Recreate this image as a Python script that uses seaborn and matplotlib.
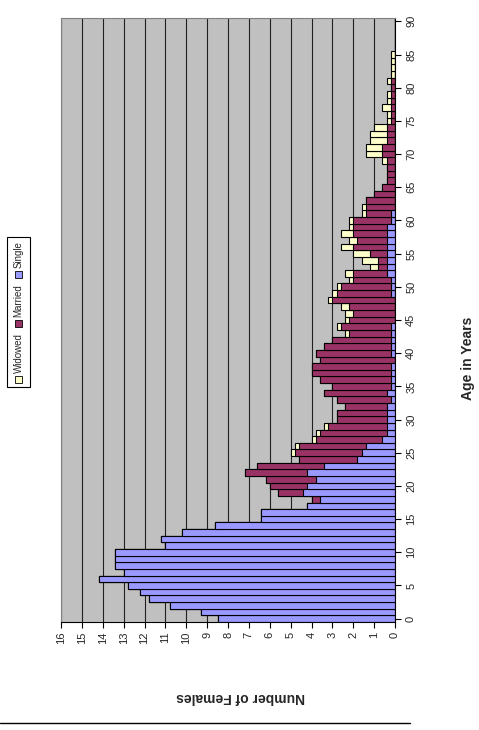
import numpy as np
import pandas as pd
import seaborn as sns
import matplotlib.pyplot as plt
from matplotlib.patches import Rectangle
from matplotlib.lines import Line2D

# ages 0..90, values (ages 86-90 are empty)
ages = list(range(0, 91))

single = [8.5, 9.3, 10.8, 11.8, 12.2, 12.8, 14.2, 13.0, 13.4, 13.4, 13.4, 11.0, 11.2, 10.2, 8.6, 6.4, 6.4,
          4.2, 3.6, 4.4, 4.2, 3.8, 4.2, 3.4, 1.8, 1.6, 1.4, 0.6, 0.4, 0.4,
          0.4, 0.4, 0.4, 0.2, 0.4, 0.2, 0.2, 0.2, 0.2, 0, 0.2, 0.2, 0.2, 0.2, 0.2, 0,
          0, 0, 0, 0.2, 0.2, 0.2, 0.4, 0.4, 0.4, 0.4, 0.4, 0.4, 0.4, 0.4, 0.2, 0.2] + [0] * 29

married = [0] * 18 + [0.4, 1.2, 1.8, 2.4, 3.0, 3.2, 2.8, 3.2, 3.2, 3.2, 3.2, 2.8,
                      2.4, 2.4, 2.0, 2.6, 3.0, 2.8, 3.4, 3.8, 3.8, 3.6, 3.6, 3.2, 2.8, 2.0, 2.4, 2.2,
                      2.0, 2.2, 3.0, 2.6, 2.4, 1.8, 1.6, 0.4, 0.4, 0.8, 1.6, 1.4, 1.6, 1.6, 1.8, 1.2,
                      1.4, 1.4, 1.0, 0.6, 0.4, 0.4, 0.4, 0.4, 0.6, 0.6, 0.4, 0.4, 0.4, 0.2, 0.2, 0.2,
                      0.2, 0.2, 0.2, 0.2, 0, 0, 0, 0] + [0] * 5

widowed = [0] * 25 + [0.2] * 5 + [0] * 13 + [0.2, 0.2, 0.2,
                                             0.4, 0.4, 0.2, 0.2, 0.2, 0.2, 0.4, 0.4, 0.8, 0.8, 0.6, 0.4, 0.6, 0.2, 0.2, 0.2,
                                             0.2, 0, 0, 0, 0, 0, 0, 0.2, 0.8, 0.8, 0.8, 0.8, 0.6, 0.2, 0.2, 0.4,
                                             0.2, 0.2, 0, 0.2, 0.2, 0.2, 0.2, 0.2] + [0] * 5

series = ['Widowed', 'Married', 'Single']
colors = {'Single': '#9999FF', 'Married': '#993366', 'Widowed': '#FFFFCC'}

df = pd.DataFrame({'age': ages, 'Single': single, 'Married': married, 'Widowed': widowed})
df['sm'] = df['Single'] + df['Married']
df['total'] = df['sm'] + df['Widowed']

sns.set_style('white')
plt.rcParams['font.family'] = ['Liberation Sans', 'DejaVu Sans']

W, H = 479, 730
fig = plt.figure(figsize=(W / 100, H / 100), dpi=100)
ax = fig.add_axes([61 / W, 1 - 622 / H, (395 - 61) / W, (622 - 18) / H])
ax.set_facecolor('#C0C0C0')

# stacked by drawing cumulative totals, biggest first
for col, name in [('total', 'Widowed'), ('sm', 'Married'), ('Single', 'Single')]:
    sns.barplot(data=df, x=col, y='age', orient='h', native_scale=True, width=1,
                color=colors[name], saturation=1, edgecolor='black', linewidth=0.8, ax=ax)

ax.set_xlim(16, 0)
ax.set_ylim(-0.5, 90.5)
ax.set_xticks(range(0, 17))
ax.set_xticklabels([str(i) for i in range(0, 17)], rotation=90, fontsize=8)
ax.set_yticks(range(0, 91, 5))
ax.set_yticklabels([str(i) for i in range(0, 91, 5)], rotation=90, fontsize=8, va='center')
ax.yaxis.tick_right()
ax.tick_params(axis='x', direction='out', length=4, width=0.8, color='black', bottom=True, pad=3)
ax.tick_params(axis='y', direction='out', length=4, width=0.8, color='black', right=True, left=False, pad=4)
ax.set_axisbelow(True)
ax.grid(axis='x', color='#202020', linewidth=0.8)
ax.grid(axis='y', visible=False)
ax.set_xlabel('')
ax.set_ylabel('')
for side in ['left', 'top']:
    ax.spines[side].set_color('#808080')
    ax.spines[side].set_linewidth(0.8)
for side in ['right', 'bottom']:
    ax.spines[side].set_color('black')
    ax.spines[side].set_linewidth(0.8)

fig.text(468 / W, 1 - 358 / H, 'Age in Years', rotation=90, fontsize=10, fontweight='bold',
         ha='center', va='center')
fig.text(241 / W, 1 - 697 / H, 'Number of Females', rotation=180, fontsize=10, fontweight='bold',
         ha='center', va='center')

# legend drawn by hand, rotated like the rest of the chart (reads bottom to top)
text_len = {'Single': 27, 'Married': 33, 'Widowed': 40}
box_top = 237
y = box_top + 4
for name in series[::-1]:
    fig.text(18.5 / W, 1 - y / H, name, rotation=90, fontsize=7, ha='center', va='top')
    y += text_len[name] + 3
    fig.add_artist(Rectangle((15 / W, 1 - (y + 7) / H), 7 / W, 7 / H, transform=fig.transFigure,
                             facecolor=colors[name], edgecolor='black', linewidth=0.6))
    y += 7 + 6
box_bot = y - 6 + 4
fig.add_artist(Rectangle((7 / W, 1 - box_bot / H), (30 - 7) / W, (box_bot - box_top) / H,
                         transform=fig.transFigure, facecolor='none', edgecolor='black', linewidth=0.8))

fig.add_artist(Line2D([0, 410 / W], [1 - 722.5 / H, 1 - 722.5 / H], transform=fig.transFigure,
                      color='black', linewidth=1))

fig.savefig('out.png', dpi=100)
